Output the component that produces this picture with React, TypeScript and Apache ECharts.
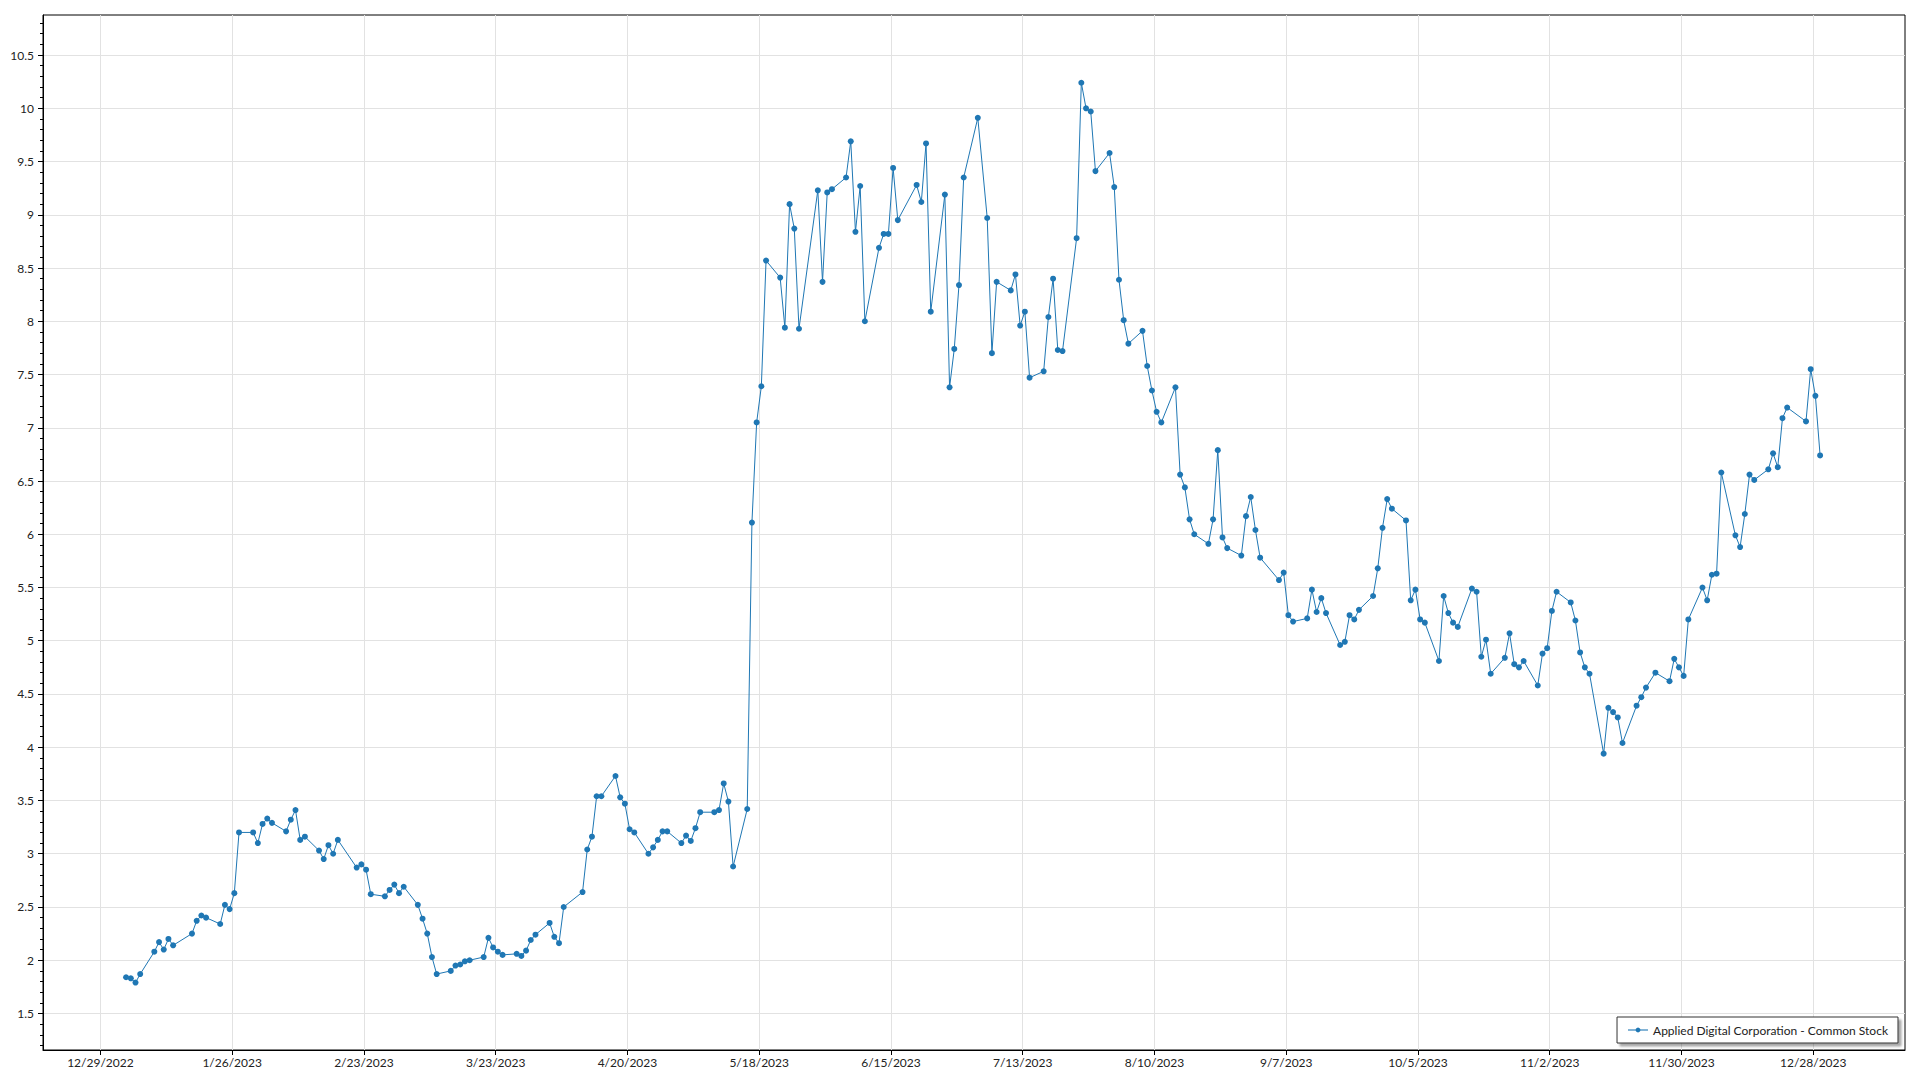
import { useEffect, useRef } from "react";
import * as echarts from "echarts";

const SERIES_NAME = "Applied Digital Corporation - Common Stock";

// Trading days and closing prices for 2023, by month
const janDays = [3, 4, 5, 6, 9, 10, 11, 12, 13, 17, 18, 19, 20, 23, 24, 25, 26, 27, 30, 31];
const janValues = [1.84, 1.83, 1.79, 1.87, 2.08, 2.17, 2.1, 2.2, 2.14, 2.25, 2.37, 2.42, 2.4, 2.34, 2.52, 2.48, 2.63, 3.2, 3.2, 3.1];

const febDays = [1, 2, 3, 6, 7, 8, 9, 10, 13, 14, 15, 16, 17, 21, 22, 23, 24, 27, 28];
const febValues = [3.28, 3.33, 3.29, 3.21, 3.32, 3.41, 3.13, 3.16, 3.03, 2.95, 3.08, 3.0, 3.13, 2.87, 2.9, 2.85, 2.62, 2.6, 2.66];

const marDays = [1, 2, 3, 6, 7, 8, 9, 10, 13, 14, 15, 16, 17, 20, 21, 22, 23, 24, 27, 28, 29, 30, 31];
const marValues = [2.71, 2.63, 2.69, 2.52, 2.39, 2.25, 2.03, 1.87, 1.9, 1.95, 1.96, 1.99, 2.0, 2.03, 2.21, 2.12, 2.08, 2.05, 2.06, 2.04, 2.09, 2.19, 2.24];

const aprDays = [3, 4, 5, 6, 10, 11, 12, 13, 14, 17, 18, 19, 20, 21, 24, 25, 26, 27, 28];
const aprValues = [2.35, 2.22, 2.16, 2.5, 2.64, 3.04, 3.16, 3.54, 3.54, 3.73, 3.53, 3.47, 3.23, 3.2, 3.0, 3.06, 3.13, 3.21, 3.21];

const mayDays = [1, 2, 3, 4, 5, 8, 9, 10, 11, 12, 15, 16, 17, 18, 19, 22, 23, 24, 25, 26, 30, 31];
const mayValues = [3.1, 3.17, 3.12, 3.24, 3.39, 3.39, 3.41, 3.66, 3.49, 2.88, 3.42, 6.11, 7.05, 7.39, 8.57, 8.41, 7.94, 9.1, 8.87, 7.93, 9.23, 8.37];

const junDays = [1, 2, 5, 6, 7, 8, 9, 12, 13, 14, 15, 16, 20, 21, 22, 23, 26, 27, 28, 29, 30];
const junValues = [9.21, 9.24, 9.35, 9.69, 8.84, 9.27, 8.0, 8.69, 8.82, 8.82, 9.44, 8.95, 9.28, 9.12, 9.67, 8.09, 9.19, 7.38, 7.74, 8.34, 9.35];

const julDays = [3, 5, 6, 7, 10, 11, 12, 13, 14, 17, 18, 19, 20, 21, 24, 25, 26, 27, 28, 31];
const julValues = [9.91, 8.97, 7.7, 8.37, 8.29, 8.44, 7.96, 8.09, 7.47, 7.53, 8.04, 8.4, 7.73, 7.72, 8.78, 10.24, 10.0, 9.97, 9.41, 9.58];

const augDays = [1, 2, 3, 4, 7, 8, 9, 10, 11, 14, 15, 16, 17, 18, 21, 22, 23, 24, 25, 28, 29, 30, 31];
const augValues = [9.26, 8.39, 8.01, 7.79, 7.91, 7.58, 7.35, 7.15, 7.05, 7.38, 6.56, 6.44, 6.14, 6.0, 5.91, 6.14, 6.79, 5.97, 5.87, 5.8, 6.17, 6.35, 6.04];

const sepDays = [1, 5, 6, 7, 8, 11, 12, 13, 14, 15, 18, 19, 20, 21, 22, 25, 26, 27, 28, 29];
const sepValues = [5.78, 5.57, 5.64, 5.24, 5.18, 5.21, 5.48, 5.27, 5.4, 5.26, 4.96, 4.99, 5.24, 5.2, 5.29, 5.42, 5.68, 6.06, 6.33, 6.24];

const octDays = [2, 3, 4, 5, 6, 9, 10, 11, 12, 13, 16, 17, 18, 19, 20, 23, 24, 25, 26, 27, 30, 31];
const octValues = [6.13, 5.38, 5.48, 5.2, 5.17, 4.81, 5.42, 5.26, 5.17, 5.13, 5.49, 5.46, 4.85, 5.01, 4.69, 4.84, 5.07, 4.78, 4.75, 4.81, 4.58, 4.88];

const novDays = [1, 2, 3, 6, 7, 8, 9, 10, 13, 14, 15, 16, 17, 20, 21, 22, 24, 27, 28, 29, 30];
const novValues = [4.93, 5.28, 5.46, 5.36, 5.19, 4.89, 4.75, 4.69, 3.94, 4.37, 4.33, 4.28, 4.04, 4.39, 4.47, 4.56, 4.7, 4.62, 4.83, 4.75, 4.67];

const decDays = [1, 4, 5, 6, 7, 8, 11, 12, 13, 14, 15, 18, 19, 20, 21, 22, 26, 27, 28, 29];
const decValues = [5.2, 5.5, 5.38, 5.62, 5.63, 6.58, 5.99, 5.88, 6.19, 6.56, 6.51, 6.61, 6.76, 6.63, 7.09, 7.19, 7.06, 7.55, 7.3, 6.74];

// X-axis tick dates (every four weeks)
const xTickDates = [
  "2022-12-29", "2023-01-26", "2023-02-23", "2023-03-23", "2023-04-20", "2023-05-18", "2023-06-15",
  "2023-07-13", "2023-08-10", "2023-09-07", "2023-10-05", "2023-11-02", "2023-11-30", "2023-12-28",
];
// Y-axis labelled ticks
const yTickValues = [1.5, 2, 2.5, 3, 3.5, 4, 4.5, 5, 5.5, 6, 6.5, 7, 7.5, 8, 8.5, 9, 9.5, 10, 10.5];

const monthDays = [janDays, febDays, marDays, aprDays, mayDays, junDays, julDays, augDays, sepDays, octDays, novDays, decDays];
const monthValues = [janValues, febValues, marValues, aprValues, mayValues, junValues, julValues, augValues, sepValues, octValues, novValues, decValues];

const DAY = 86400000;
const ORIGIN = Date.UTC(2022, 11, 29);
const SAMPLE_HOUR = 11; // quotes are stamped late morning
const toDay = (iso: string) => {
  const [y, m, d] = iso.split("-").map(Number);
  return (Date.UTC(y, m - 1, d) - ORIGIN) / DAY;
};
const dayLabel = (v: number) => {
  const dt = new Date(ORIGIN + Math.round(v) * DAY);
  return `${dt.getUTCMonth() + 1}/${dt.getUTCDate()}/${dt.getUTCFullYear()}`;
};

const FONT = "'Segoe UI', Lato, 'Open Sans', sans-serif";
const LINE_COLOR = "#1f77b4";

export default function App() {
  const ref = useRef<HTMLDivElement>(null);
  useEffect(() => {
    if (!ref.current) return;
    const chart = echarts.init(ref.current, undefined, { renderer: "svg" });

    const data: number[][] = [];
    monthDays.forEach((days, m) => {
      days.forEach((d, i) => {
        const x = (Date.UTC(2023, m, d) - ORIGIN) / DAY + SAMPLE_HOUR / 24;
        data.push([x, monthValues[m][i]]);
      });
    });

    const xTicks = xTickDates.map(toDay);
    const yMinor: number[] = [];
    for (let k = 12; k <= 108; k++) yMinor.push(k / 10);

    const yMin = 1.157;
    const yMax = 10.876;

    chart.setOption({
      animation: false,
      textStyle: { fontFamily: FONT },
      grid: {
        left: 43,
        top: 15,
        right: 15,
        bottom: 30,
        show: true,
        borderColor: "#000",
        borderWidth: 1,
      },
      xAxis: {
        type: "value",
        min: -12.2,
        max: 383.5,
        axisLine: { show: true, onZero: false, lineStyle: { color: "#000", width: 1 } },
        axisTick: { show: true, inside: false, length: 5, customValues: xTicks, lineStyle: { color: "#000" } },
        axisLabel: {
          customValues: xTicks,
          formatter: (v: number) => dayLabel(v),
          margin: 6,
          color: "#222",
          fontSize: 12,
          fontFamily: FONT,
        },
        splitLine: { show: true, lineStyle: { color: "#e2e2e2", width: 1 } },
      },
      yAxis: [
        {
          type: "value",
          min: yMin,
          max: yMax,
          position: "left",
          axisLine: { show: true, onZero: false, lineStyle: { color: "#000", width: 1 } },
          axisTick: { show: true, inside: false, length: 5, customValues: yTickValues, lineStyle: { color: "#000" } },
          axisLabel: {
            customValues: yTickValues,
            formatter: (v: number) => String(v),
            margin: 9,
            color: "#222",
            fontSize: 12,
            fontFamily: FONT,
          },
          splitLine: { show: true, lineStyle: { color: "#e2e2e2", width: 1 } },
        },
        {
          type: "value",
          min: yMin,
          max: yMax,
          position: "left",
          axisLine: { show: false, onZero: false },
          axisTick: { show: true, inside: false, length: 3, customValues: yMinor, lineStyle: { color: "#000" } },
          axisLabel: { show: false },
          splitLine: { show: false },
        },
      ],
      legend: {
        right: 22,
        bottom: 37,
        padding: [6, 10, 6, 10],
        itemWidth: 20,
        itemHeight: 6,
        itemGap: 0,
        backgroundColor: "#fff",
        borderColor: "#333",
        borderWidth: 1,
        borderRadius: 0,
        shadowColor: "rgba(0,0,0,0.35)",
        shadowBlur: 2,
        shadowOffsetX: 3,
        shadowOffsetY: 3,
        textStyle: { fontSize: 12, color: "#222", fontFamily: FONT, lineHeight: 14 },
        lineStyle: { color: "rgba(31,119,180,0.55)", width: 2 },
        data: [SERIES_NAME],
      },
      series: [
        {
          name: SERIES_NAME,
          type: "line",
          data,
          symbol: "circle",
          symbolSize: 6,
          showSymbol: true,
          lineStyle: { color: LINE_COLOR, width: 1 },
          itemStyle: { color: LINE_COLOR },
          emphasis: { disabled: true },
        },
      ],
    });
    return () => chart.dispose();
  }, []);

  return (
    <div
      ref={ref}
      style={{ position: "fixed", left: 0, top: 0, width: 1920, height: 1080, background: "#fff" }}
    />
  );
}
